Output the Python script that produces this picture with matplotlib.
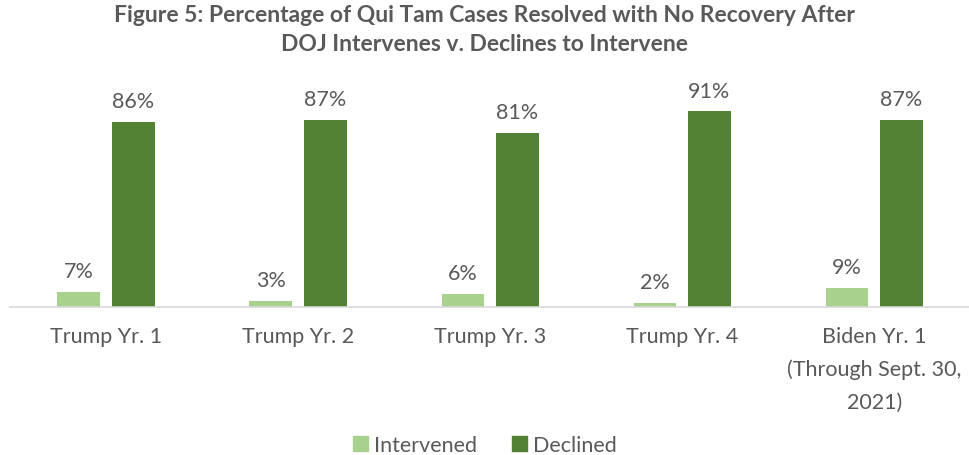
import numpy as np
import matplotlib.pyplot as plt
from matplotlib.patches import Patch

categories = ['Trump Yr. 1', 'Trump Yr. 2', 'Trump Yr. 3', 'Trump Yr. 4',
              'Biden Yr. 1\n(Through Sept. 30,\n2021)']
intervened = [7, 3, 6, 2, 9]
declined = [86, 87, 81, 91, 87]

light = '#A9D18E'
dark = '#548235'
grey = '#595959'

plt.rcParams['font.family'] = ['Lato', 'DejaVu Sans']

fig = plt.figure(figsize=(9.7, 4.56), dpi=100)
ax = fig.add_axes([0.0103, 0.3246, 0.99, 0.4715])

x = np.arange(len(categories))
w = 0.222
off = 0.142
b1 = ax.bar(x - off, intervened, w, color=light, label='Intervened')
b2 = ax.bar(x + off, declined, w, color=dark, label='Declined')

# percentage labels above each bar
for bars, vals in ((b1, intervened), (b2, declined)):
    for r, v in zip(bars, vals):
        ax.text(r.get_x() + r.get_width() / 2, v + 5, f'{v}%', ha='center',
                va='bottom', fontsize=15.5, color=grey)

ax.set_xlim(-0.5, len(categories) - 0.5)
ax.set_ylim(0, 100)
ax.set_xticks(x)
ax.set_xticklabels(categories, fontsize=15.5, color=grey, linespacing=1.75)
ax.tick_params(axis='x', length=0, pad=14)
ax.set_yticks([])
for s in ['top', 'right', 'left']:
    ax.spines[s].set_visible(False)
ax.spines['bottom'].set_color('#D9D9D9')
ax.spines['bottom'].set_linewidth(1.2)

fig.text(0.5, 0.99, 'Figure 5: Percentage of Qui Tam Cases Resolved with No Recovery After\n'
         'DOJ Intervenes v. Declines to Intervene', ha='center', va='top',
         fontsize=16.5, fontweight='bold', color=grey, linespacing=1.5)

handles = [Patch(color=light, label='Intervened'), Patch(color=dark, label='Declined')]
fig.legend(handles=handles, loc='center', bbox_to_anchor=(0.5, 0.022), ncol=2,
           frameon=False, fontsize=15.5, labelcolor=grey, handlelength=0.7,
           handleheight=0.7, handletextpad=0.3, columnspacing=1.6)

fig.savefig('out.png', dpi=100)
